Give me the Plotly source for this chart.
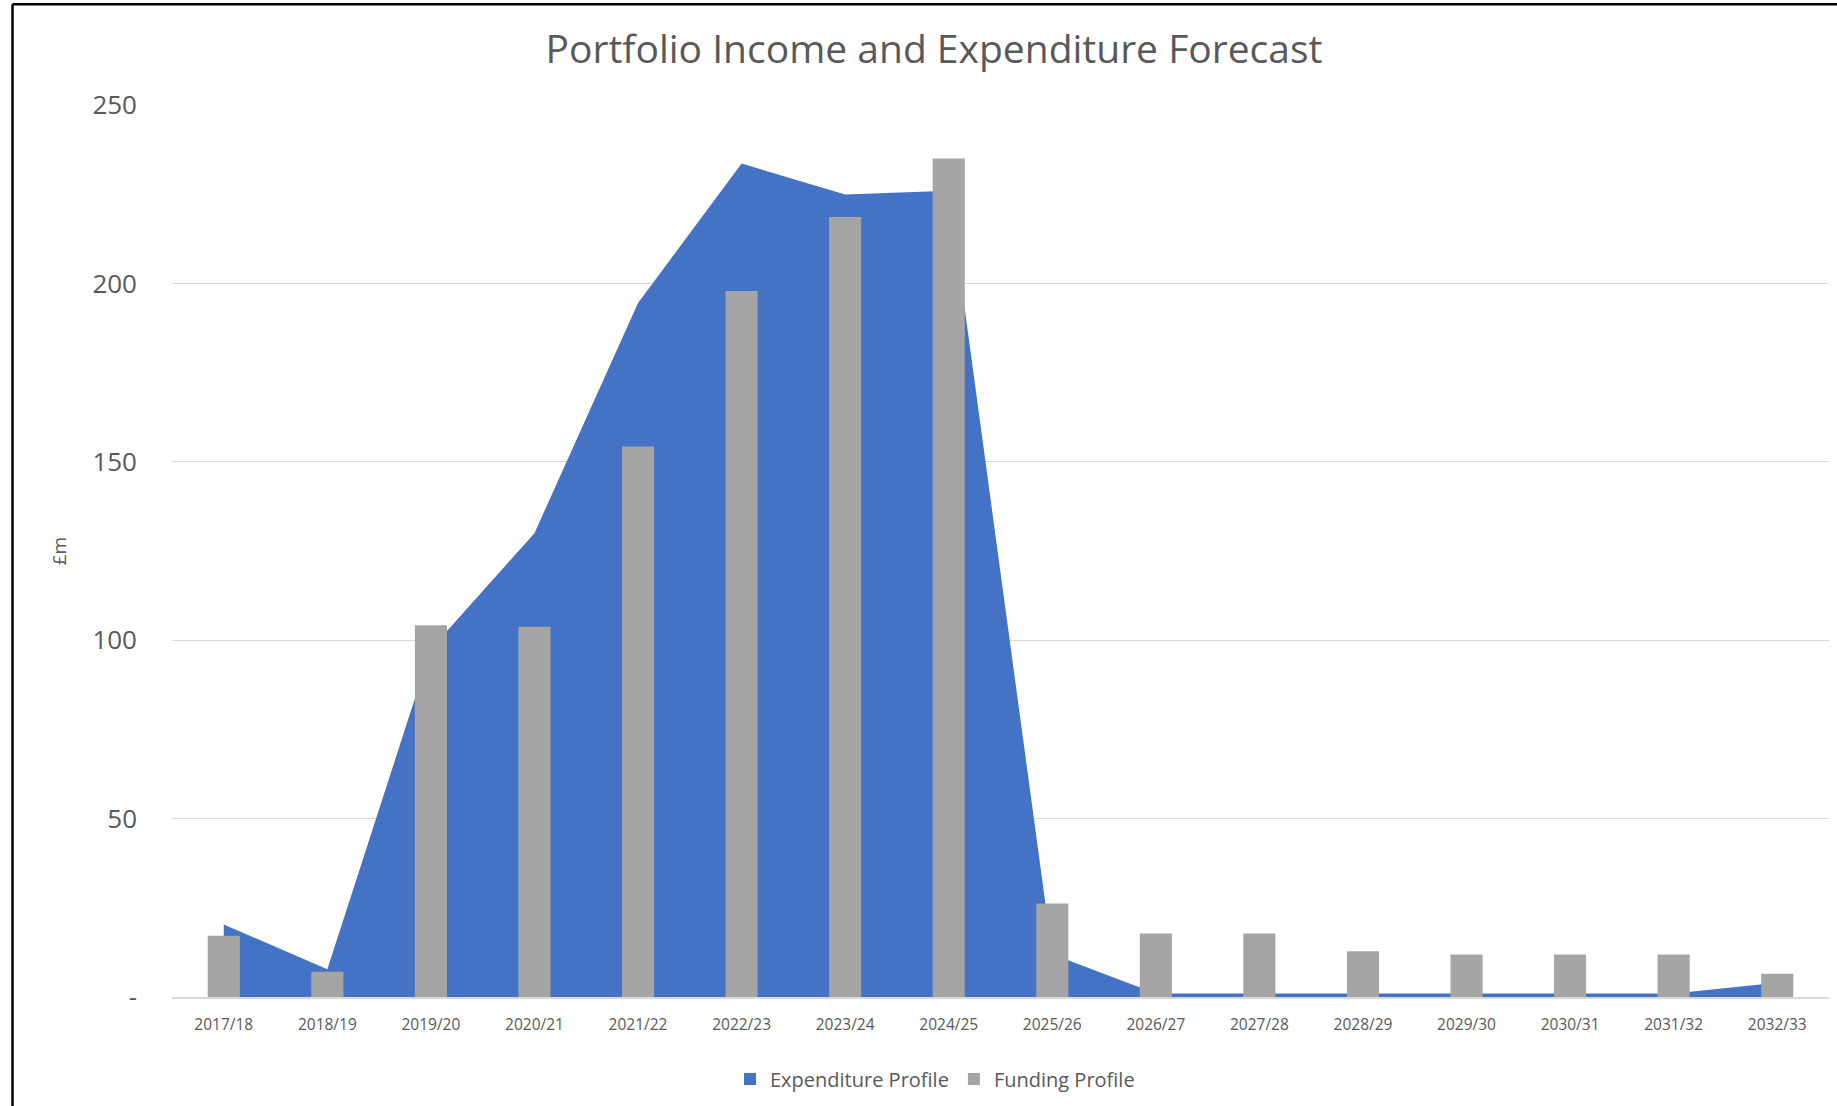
import plotly.graph_objects as go

categories = ['2017/18', '2018/19', '2019/20', '2020/21', '2021/22', '2022/23', '2023/24', '2024/25',
              '2025/26', '2026/27', '2027/28', '2028/29', '2029/30', '2030/31', '2031/32', '2032/33']
expenditure = [20.3, 7.8, 97.5, 130.0, 194.5, 233.6, 224.9, 226.0, 12.0, 1.0, 1.0, 1.0, 1.0, 1.0, 1.0, 4.0]
funding = [17.2, 7.1, 104.2, 103.8, 154.3, 197.9, 218.6, 235.0, 26.2, 17.8, 17.8, 12.8, 11.9, 11.9, 11.9, 6.5]
y_ticks = [0, 50, 100, 150, 200, 250]
y_tick_text = ['-', '50', '100', '150', '200', '250']

W, H = 1837, 1106
L, R, T, B = 172, 8, 105, 109
pw, ph = W - L - R, H - T - B

def px_x(p):
    return (p - L) / pw

def px_y(p):
    return (H - B - p) / ph

grey_txt = '#595959'
font_main = 'Open Sans'
blue = '#4472C4'
grey_bar = '#A5A5A5'

fig = go.Figure()
fig.add_trace(go.Scatter(
    x=categories, y=expenditure, name='Expenditure Profile',
    mode='none', fill='tozeroy', fillcolor=blue, showlegend=False,
    xaxis='x', yaxis='y'))
# legend key only (square key like the reference); zero height, draws nothing
fig.add_trace(go.Bar(
    x=[categories[0]], y=[0], name='Expenditure Profile',
    marker=dict(color=blue, line=dict(width=0)), width=0.31, showlegend=True,
    hoverinfo='skip', xaxis='x2', yaxis='y2'))
fig.add_trace(go.Bar(
    x=categories, y=funding, name='Funding Profile',
    marker=dict(color=grey_bar, line=dict(width=0)), width=0.31,
    xaxis='x2', yaxis='y2'))

common_x = dict(categoryorder='array', categoryarray=categories, range=[-0.5, 15.5], type='category')

fig.update_layout(
    width=W, height=H,
    margin=dict(l=L, r=R, t=T, b=B, autoexpand=False),
    paper_bgcolor='white', plot_bgcolor='white',
    barmode='overlay',
    title=dict(text='Portfolio Income and Expenditure Forecast',
               x=934 / W, xref='container', xanchor='center',
               y=1 - 49 / H, yref='container', yanchor='middle',
               font=dict(family=font_main, size=39, color=grey_txt)),
    xaxis=dict(**common_x, showgrid=False, showline=True, linecolor='#D9D9D9', linewidth=2,
               ticks='', tickfont=dict(family=font_main, size=15.5, color=grey_txt),
               ticklabelstandoff=12),
    xaxis2=dict(**common_x, overlaying='x', visible=False),
    yaxis=dict(range=[0, 250], tickvals=y_ticks, ticktext=y_tick_text,
               showgrid=True, gridcolor='#D9D9D9', gridwidth=1, zeroline=False,
               showline=False, ticks='',
               tickfont=dict(family=font_main, size=26, color=grey_txt),
               ticklabelstandoff=34,
               title=dict(text='£m', standoff=20,
                          font=dict(family=font_main, size=19, color=grey_txt))),
    yaxis2=dict(range=[0, 250], overlaying='y', visible=False),
    showlegend=True,
    legend=dict(orientation='h', x=px_x(935), xanchor='center', y=px_y(1079), yanchor='middle',
                font=dict(family=font_main, size=20, color=grey_txt),
                bgcolor='rgba(0,0,0,0)', itemwidth=30, traceorder='normal'),
    shapes=[
        dict(type='line', xref='paper', yref='paper', x0=px_x(12.5), x1=px_x(12.5),
             y0=px_y(H + 5), y1=px_y(4.3), line=dict(color='black', width=2.5)),
        dict(type='line', xref='paper', yref='paper', x0=px_x(12.5), x1=px_x(W + 5),
             y0=px_y(4.3), y1=px_y(4.3), line=dict(color='black', width=2.5)),
    ],
)

fig.write_html('out.html', config={'displayModeBar': False},
               post_script="document.body.style.margin='0';")
